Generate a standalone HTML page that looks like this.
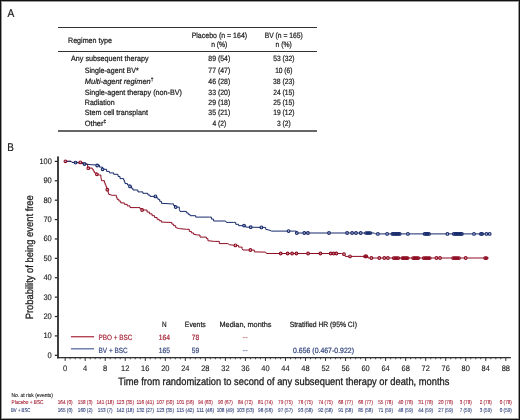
<!DOCTYPE html>
<html><head><meta charset="utf-8"><title>Figure</title>
<style>
html,body{margin:0;padding:0;background:#fff;}
body{width:520px;height:420px;overflow:hidden;}
svg{display:block;font-family:"Liberation Sans",sans-serif;will-change:transform;text-rendering:geometricPrecision;}
</style></head>
<body>
<svg width="520" height="420" viewBox="0 0 520 420" fill="#1a1a1a">
<rect x="0" y="0" width="520" height="420" fill="#fff"/>
<text x="7.60" y="17.10" font-size="11.4" textLength="6.80" lengthAdjust="spacingAndGlyphs" stroke="#1a1a1a" stroke-width="0.22">A</text>
<rect x="58" y="27" width="259" height="1" fill="#333"/>
<rect x="58" y="51" width="259" height="1" fill="#333"/>
<rect x="58" y="130" width="259" height="2" fill="#666"/>
<text x="68.00" y="42.90" font-size="7.7" textLength="44.00" lengthAdjust="spacingAndGlyphs" stroke="#1a1a1a" stroke-width="0.22">Regimen type</text>
<text x="219.40" y="37.80" font-size="7.7" text-anchor="middle" textLength="55.50" lengthAdjust="spacingAndGlyphs" stroke="#1a1a1a" stroke-width="0.22">Placebo (n = 164)</text>
<text x="219.30" y="47.20" font-size="7.7" text-anchor="middle" textLength="16.20" lengthAdjust="spacingAndGlyphs" stroke="#1a1a1a" stroke-width="0.22">n (%)</text>
<text x="283.70" y="37.80" font-size="7.7" text-anchor="middle" textLength="38.10" lengthAdjust="spacingAndGlyphs" stroke="#1a1a1a" stroke-width="0.22">BV (n = 165)</text>
<text x="283.70" y="47.20" font-size="7.7" text-anchor="middle" textLength="16.20" lengthAdjust="spacingAndGlyphs" stroke="#1a1a1a" stroke-width="0.22">n (%)</text>
<text x="71.00" y="61.40" font-size="7.7" textLength="77.60" lengthAdjust="spacingAndGlyphs" stroke="#1a1a1a" stroke-width="0.22">Any subsequent therapy</text>
<text x="219.30" y="61.40" font-size="7.7" text-anchor="middle" textLength="21.90" lengthAdjust="spacingAndGlyphs" stroke="#1a1a1a" stroke-width="0.22">89 (54)</text>
<text x="283.80" y="61.40" font-size="7.7" text-anchor="middle" textLength="21.30" lengthAdjust="spacingAndGlyphs" stroke="#1a1a1a" stroke-width="0.22">53 (32)</text>
<text x="84.80" y="72.60" font-size="7.7" textLength="54.00" lengthAdjust="spacingAndGlyphs" stroke="#1a1a1a" stroke-width="0.22">Single-agent BV*</text>
<text x="219.30" y="72.60" font-size="7.7" text-anchor="middle" textLength="21.90" lengthAdjust="spacingAndGlyphs" stroke="#1a1a1a" stroke-width="0.22">77 (47)</text>
<text x="283.80" y="72.60" font-size="7.7" text-anchor="middle" textLength="17.30" lengthAdjust="spacingAndGlyphs" stroke="#1a1a1a" stroke-width="0.22">10 (6)</text>
<text x="84.80" y="83.80" font-size="7.7" textLength="68.60" lengthAdjust="spacingAndGlyphs" stroke="#1a1a1a" stroke-width="0.22"><tspan font-style="italic">Multi-agent regimen</tspan><tspan font-size="5" dy="-3">†</tspan></text>
<text x="219.30" y="83.80" font-size="7.7" text-anchor="middle" textLength="21.90" lengthAdjust="spacingAndGlyphs" stroke="#1a1a1a" stroke-width="0.22">46 (28)</text>
<text x="283.80" y="83.80" font-size="7.7" text-anchor="middle" textLength="21.50" lengthAdjust="spacingAndGlyphs" stroke="#1a1a1a" stroke-width="0.22">38 (23)</text>
<text x="84.80" y="94.90" font-size="7.7" textLength="97.10" lengthAdjust="spacingAndGlyphs" stroke="#1a1a1a" stroke-width="0.22">Single-agent therapy (non-BV)</text>
<text x="219.30" y="94.90" font-size="7.7" text-anchor="middle" textLength="21.90" lengthAdjust="spacingAndGlyphs" stroke="#1a1a1a" stroke-width="0.22">33 (20)</text>
<text x="283.80" y="94.90" font-size="7.7" text-anchor="middle" textLength="21.30" lengthAdjust="spacingAndGlyphs" stroke="#1a1a1a" stroke-width="0.22">24 (15)</text>
<text x="84.80" y="105.20" font-size="7.7" textLength="29.80" lengthAdjust="spacingAndGlyphs" stroke="#1a1a1a" stroke-width="0.22">Radiation</text>
<text x="219.30" y="105.20" font-size="7.7" text-anchor="middle" textLength="21.90" lengthAdjust="spacingAndGlyphs" stroke="#1a1a1a" stroke-width="0.22">29 (18)</text>
<text x="283.80" y="105.20" font-size="7.7" text-anchor="middle" textLength="21.30" lengthAdjust="spacingAndGlyphs" stroke="#1a1a1a" stroke-width="0.22">25 (15)</text>
<text x="84.80" y="115.00" font-size="7.7" textLength="63.10" lengthAdjust="spacingAndGlyphs" stroke="#1a1a1a" stroke-width="0.22">Stem cell transplant</text>
<text x="219.30" y="115.00" font-size="7.7" text-anchor="middle" textLength="21.90" lengthAdjust="spacingAndGlyphs" stroke="#1a1a1a" stroke-width="0.22">35 (21)</text>
<text x="283.80" y="115.00" font-size="7.7" text-anchor="middle" textLength="21.30" lengthAdjust="spacingAndGlyphs" stroke="#1a1a1a" stroke-width="0.22">19 (12)</text>
<text x="84.80" y="126.40" font-size="7.7" textLength="21.40" lengthAdjust="spacingAndGlyphs" stroke="#1a1a1a" stroke-width="0.22">Other<tspan font-size="5" dy="-3">‡</tspan></text>
<text x="219.30" y="126.40" font-size="7.7" text-anchor="middle" textLength="13.80" lengthAdjust="spacingAndGlyphs" stroke="#1a1a1a" stroke-width="0.22">4 (2)</text>
<text x="283.80" y="126.40" font-size="7.7" text-anchor="middle" textLength="13.80" lengthAdjust="spacingAndGlyphs" stroke="#1a1a1a" stroke-width="0.22">3 (2)</text>
<text x="7.30" y="150.80" font-size="11.4" textLength="6.60" lengthAdjust="spacingAndGlyphs" stroke="#1a1a1a" stroke-width="0.22">B</text>
<rect x="57.1" y="156.4" width="1.8" height="202.0" fill="#2b2b2b"/>
<rect x="57.1" y="357.0" width="453.8" height="1.3" fill="#303030"/>
<rect x="54.8" y="354.70" width="2.5" height="1.2" fill="#222"/>
<text x="51.80" y="357.80" font-size="8.0" text-anchor="end" textLength="4.20" lengthAdjust="spacingAndGlyphs" stroke="#1a1a1a" stroke-width="0.12">0</text>
<rect x="54.8" y="335.31" width="2.5" height="1.2" fill="#222"/>
<text x="51.80" y="338.41" font-size="8.0" text-anchor="end" textLength="8.40" lengthAdjust="spacingAndGlyphs" stroke="#1a1a1a" stroke-width="0.12">10</text>
<rect x="54.8" y="315.92" width="2.5" height="1.2" fill="#222"/>
<text x="51.80" y="319.02" font-size="8.0" text-anchor="end" textLength="8.40" lengthAdjust="spacingAndGlyphs" stroke="#1a1a1a" stroke-width="0.12">20</text>
<rect x="54.8" y="296.53" width="2.5" height="1.2" fill="#222"/>
<text x="51.80" y="299.63" font-size="8.0" text-anchor="end" textLength="8.40" lengthAdjust="spacingAndGlyphs" stroke="#1a1a1a" stroke-width="0.12">30</text>
<rect x="54.8" y="277.14" width="2.5" height="1.2" fill="#222"/>
<text x="51.80" y="280.24" font-size="8.0" text-anchor="end" textLength="8.40" lengthAdjust="spacingAndGlyphs" stroke="#1a1a1a" stroke-width="0.12">40</text>
<rect x="54.8" y="257.75" width="2.5" height="1.2" fill="#222"/>
<text x="51.80" y="260.85" font-size="8.0" text-anchor="end" textLength="8.40" lengthAdjust="spacingAndGlyphs" stroke="#1a1a1a" stroke-width="0.12">50</text>
<rect x="54.8" y="238.36" width="2.5" height="1.2" fill="#222"/>
<text x="51.80" y="241.46" font-size="8.0" text-anchor="end" textLength="8.40" lengthAdjust="spacingAndGlyphs" stroke="#1a1a1a" stroke-width="0.12">60</text>
<rect x="54.8" y="218.97" width="2.5" height="1.2" fill="#222"/>
<text x="51.80" y="222.07" font-size="8.0" text-anchor="end" textLength="8.40" lengthAdjust="spacingAndGlyphs" stroke="#1a1a1a" stroke-width="0.12">70</text>
<rect x="54.8" y="199.58" width="2.5" height="1.2" fill="#222"/>
<text x="51.80" y="202.68" font-size="8.0" text-anchor="end" textLength="8.40" lengthAdjust="spacingAndGlyphs" stroke="#1a1a1a" stroke-width="0.12">80</text>
<rect x="54.8" y="180.19" width="2.5" height="1.2" fill="#222"/>
<text x="51.80" y="183.29" font-size="8.0" text-anchor="end" textLength="8.40" lengthAdjust="spacingAndGlyphs" stroke="#1a1a1a" stroke-width="0.12">90</text>
<rect x="54.8" y="160.80" width="2.5" height="1.2" fill="#222"/>
<text x="51.80" y="163.90" font-size="8.0" text-anchor="end" textLength="12.40" lengthAdjust="spacingAndGlyphs" stroke="#1a1a1a" stroke-width="0.12">100</text>
<rect x="64.65" y="358" width="1.0" height="2.9" fill="#333"/>
<rect x="69.66" y="358" width="1.0" height="1.3" fill="#444"/>
<rect x="74.66" y="358" width="1.0" height="1.3" fill="#444"/>
<rect x="79.67" y="358" width="1.0" height="1.3" fill="#444"/>
<rect x="84.68" y="358" width="1.0" height="2.9" fill="#333"/>
<rect x="89.69" y="358" width="1.0" height="1.3" fill="#444"/>
<rect x="94.69" y="358" width="1.0" height="1.3" fill="#444"/>
<rect x="99.70" y="358" width="1.0" height="1.3" fill="#444"/>
<rect x="104.71" y="358" width="1.0" height="2.9" fill="#333"/>
<rect x="109.72" y="358" width="1.0" height="1.3" fill="#444"/>
<rect x="114.72" y="358" width="1.0" height="1.3" fill="#444"/>
<rect x="119.73" y="358" width="1.0" height="1.3" fill="#444"/>
<rect x="124.74" y="358" width="1.0" height="2.9" fill="#333"/>
<rect x="129.75" y="358" width="1.0" height="1.3" fill="#444"/>
<rect x="134.75" y="358" width="1.0" height="1.3" fill="#444"/>
<rect x="139.76" y="358" width="1.0" height="1.3" fill="#444"/>
<rect x="144.77" y="358" width="1.0" height="2.9" fill="#333"/>
<rect x="149.78" y="358" width="1.0" height="1.3" fill="#444"/>
<rect x="154.78" y="358" width="1.0" height="1.3" fill="#444"/>
<rect x="159.79" y="358" width="1.0" height="1.3" fill="#444"/>
<rect x="164.80" y="358" width="1.0" height="2.9" fill="#333"/>
<rect x="169.81" y="358" width="1.0" height="1.3" fill="#444"/>
<rect x="174.81" y="358" width="1.0" height="1.3" fill="#444"/>
<rect x="179.82" y="358" width="1.0" height="1.3" fill="#444"/>
<rect x="184.83" y="358" width="1.0" height="2.9" fill="#333"/>
<rect x="189.83" y="358" width="1.0" height="1.3" fill="#444"/>
<rect x="194.84" y="358" width="1.0" height="1.3" fill="#444"/>
<rect x="199.85" y="358" width="1.0" height="1.3" fill="#444"/>
<rect x="204.86" y="358" width="1.0" height="2.9" fill="#333"/>
<rect x="209.86" y="358" width="1.0" height="1.3" fill="#444"/>
<rect x="214.87" y="358" width="1.0" height="1.3" fill="#444"/>
<rect x="219.88" y="358" width="1.0" height="1.3" fill="#444"/>
<rect x="224.89" y="358" width="1.0" height="2.9" fill="#333"/>
<rect x="229.89" y="358" width="1.0" height="1.3" fill="#444"/>
<rect x="234.90" y="358" width="1.0" height="1.3" fill="#444"/>
<rect x="239.91" y="358" width="1.0" height="1.3" fill="#444"/>
<rect x="244.92" y="358" width="1.0" height="2.9" fill="#333"/>
<rect x="249.92" y="358" width="1.0" height="1.3" fill="#444"/>
<rect x="254.93" y="358" width="1.0" height="1.3" fill="#444"/>
<rect x="259.94" y="358" width="1.0" height="1.3" fill="#444"/>
<rect x="264.95" y="358" width="1.0" height="2.9" fill="#333"/>
<rect x="269.95" y="358" width="1.0" height="1.3" fill="#444"/>
<rect x="274.96" y="358" width="1.0" height="1.3" fill="#444"/>
<rect x="279.97" y="358" width="1.0" height="1.3" fill="#444"/>
<rect x="284.98" y="358" width="1.0" height="2.9" fill="#333"/>
<rect x="289.98" y="358" width="1.0" height="1.3" fill="#444"/>
<rect x="294.99" y="358" width="1.0" height="1.3" fill="#444"/>
<rect x="300.00" y="358" width="1.0" height="1.3" fill="#444"/>
<rect x="305.01" y="358" width="1.0" height="2.9" fill="#333"/>
<rect x="310.01" y="358" width="1.0" height="1.3" fill="#444"/>
<rect x="315.02" y="358" width="1.0" height="1.3" fill="#444"/>
<rect x="320.03" y="358" width="1.0" height="1.3" fill="#444"/>
<rect x="325.03" y="358" width="1.0" height="2.9" fill="#333"/>
<rect x="330.04" y="358" width="1.0" height="1.3" fill="#444"/>
<rect x="335.05" y="358" width="1.0" height="1.3" fill="#444"/>
<rect x="340.06" y="358" width="1.0" height="1.3" fill="#444"/>
<rect x="345.06" y="358" width="1.0" height="2.9" fill="#333"/>
<rect x="350.07" y="358" width="1.0" height="1.3" fill="#444"/>
<rect x="355.08" y="358" width="1.0" height="1.3" fill="#444"/>
<rect x="360.09" y="358" width="1.0" height="1.3" fill="#444"/>
<rect x="365.09" y="358" width="1.0" height="2.9" fill="#333"/>
<rect x="370.10" y="358" width="1.0" height="1.3" fill="#444"/>
<rect x="375.11" y="358" width="1.0" height="1.3" fill="#444"/>
<rect x="380.12" y="358" width="1.0" height="1.3" fill="#444"/>
<rect x="385.12" y="358" width="1.0" height="2.9" fill="#333"/>
<rect x="390.13" y="358" width="1.0" height="1.3" fill="#444"/>
<rect x="395.14" y="358" width="1.0" height="1.3" fill="#444"/>
<rect x="400.15" y="358" width="1.0" height="1.3" fill="#444"/>
<rect x="405.15" y="358" width="1.0" height="2.9" fill="#333"/>
<rect x="410.16" y="358" width="1.0" height="1.3" fill="#444"/>
<rect x="415.17" y="358" width="1.0" height="1.3" fill="#444"/>
<rect x="420.18" y="358" width="1.0" height="1.3" fill="#444"/>
<rect x="425.18" y="358" width="1.0" height="2.9" fill="#333"/>
<rect x="430.19" y="358" width="1.0" height="1.3" fill="#444"/>
<rect x="435.20" y="358" width="1.0" height="1.3" fill="#444"/>
<rect x="440.20" y="358" width="1.0" height="1.3" fill="#444"/>
<rect x="445.21" y="358" width="1.0" height="2.9" fill="#333"/>
<rect x="450.22" y="358" width="1.0" height="1.3" fill="#444"/>
<rect x="455.23" y="358" width="1.0" height="1.3" fill="#444"/>
<rect x="460.23" y="358" width="1.0" height="1.3" fill="#444"/>
<rect x="465.24" y="358" width="1.0" height="2.9" fill="#333"/>
<rect x="470.25" y="358" width="1.0" height="1.3" fill="#444"/>
<rect x="475.26" y="358" width="1.0" height="1.3" fill="#444"/>
<rect x="480.26" y="358" width="1.0" height="1.3" fill="#444"/>
<rect x="485.27" y="358" width="1.0" height="2.9" fill="#333"/>
<rect x="490.28" y="358" width="1.0" height="1.3" fill="#444"/>
<rect x="495.29" y="358" width="1.0" height="1.3" fill="#444"/>
<rect x="500.29" y="358" width="1.0" height="1.3" fill="#444"/>
<rect x="505.30" y="358" width="1.0" height="2.9" fill="#333"/>
<text x="65.15" y="371.30" font-size="8.0" text-anchor="middle" textLength="4.20" lengthAdjust="spacingAndGlyphs" stroke="#1a1a1a" stroke-width="0.12">0</text>
<text x="85.18" y="371.30" font-size="8.0" text-anchor="middle" textLength="4.20" lengthAdjust="spacingAndGlyphs" stroke="#1a1a1a" stroke-width="0.12">4</text>
<text x="105.21" y="371.30" font-size="8.0" text-anchor="middle" textLength="4.20" lengthAdjust="spacingAndGlyphs" stroke="#1a1a1a" stroke-width="0.12">8</text>
<text x="125.24" y="371.30" font-size="8.0" text-anchor="middle" textLength="8.30" lengthAdjust="spacingAndGlyphs" stroke="#1a1a1a" stroke-width="0.12">12</text>
<text x="145.27" y="371.30" font-size="8.0" text-anchor="middle" textLength="8.30" lengthAdjust="spacingAndGlyphs" stroke="#1a1a1a" stroke-width="0.12">16</text>
<text x="165.30" y="371.30" font-size="8.0" text-anchor="middle" textLength="8.30" lengthAdjust="spacingAndGlyphs" stroke="#1a1a1a" stroke-width="0.12">20</text>
<text x="185.33" y="371.30" font-size="8.0" text-anchor="middle" textLength="8.30" lengthAdjust="spacingAndGlyphs" stroke="#1a1a1a" stroke-width="0.12">24</text>
<text x="205.36" y="371.30" font-size="8.0" text-anchor="middle" textLength="8.30" lengthAdjust="spacingAndGlyphs" stroke="#1a1a1a" stroke-width="0.12">28</text>
<text x="225.39" y="371.30" font-size="8.0" text-anchor="middle" textLength="8.30" lengthAdjust="spacingAndGlyphs" stroke="#1a1a1a" stroke-width="0.12">32</text>
<text x="245.42" y="371.30" font-size="8.0" text-anchor="middle" textLength="8.30" lengthAdjust="spacingAndGlyphs" stroke="#1a1a1a" stroke-width="0.12">36</text>
<text x="265.45" y="371.30" font-size="8.0" text-anchor="middle" textLength="8.30" lengthAdjust="spacingAndGlyphs" stroke="#1a1a1a" stroke-width="0.12">40</text>
<text x="285.48" y="371.30" font-size="8.0" text-anchor="middle" textLength="8.30" lengthAdjust="spacingAndGlyphs" stroke="#1a1a1a" stroke-width="0.12">44</text>
<text x="305.51" y="371.30" font-size="8.0" text-anchor="middle" textLength="8.30" lengthAdjust="spacingAndGlyphs" stroke="#1a1a1a" stroke-width="0.12">48</text>
<text x="325.53" y="371.30" font-size="8.0" text-anchor="middle" textLength="8.30" lengthAdjust="spacingAndGlyphs" stroke="#1a1a1a" stroke-width="0.12">52</text>
<text x="345.56" y="371.30" font-size="8.0" text-anchor="middle" textLength="8.30" lengthAdjust="spacingAndGlyphs" stroke="#1a1a1a" stroke-width="0.12">56</text>
<text x="365.59" y="371.30" font-size="8.0" text-anchor="middle" textLength="8.30" lengthAdjust="spacingAndGlyphs" stroke="#1a1a1a" stroke-width="0.12">60</text>
<text x="385.62" y="371.30" font-size="8.0" text-anchor="middle" textLength="8.30" lengthAdjust="spacingAndGlyphs" stroke="#1a1a1a" stroke-width="0.12">64</text>
<text x="405.65" y="371.30" font-size="8.0" text-anchor="middle" textLength="8.30" lengthAdjust="spacingAndGlyphs" stroke="#1a1a1a" stroke-width="0.12">68</text>
<text x="425.68" y="371.30" font-size="8.0" text-anchor="middle" textLength="8.30" lengthAdjust="spacingAndGlyphs" stroke="#1a1a1a" stroke-width="0.12">72</text>
<text x="445.71" y="371.30" font-size="8.0" text-anchor="middle" textLength="8.30" lengthAdjust="spacingAndGlyphs" stroke="#1a1a1a" stroke-width="0.12">76</text>
<text x="465.74" y="371.30" font-size="8.0" text-anchor="middle" textLength="8.30" lengthAdjust="spacingAndGlyphs" stroke="#1a1a1a" stroke-width="0.12">80</text>
<text x="485.77" y="371.30" font-size="8.0" text-anchor="middle" textLength="8.30" lengthAdjust="spacingAndGlyphs" stroke="#1a1a1a" stroke-width="0.12">84</text>
<text x="505.80" y="371.30" font-size="8.0" text-anchor="middle" textLength="8.30" lengthAdjust="spacingAndGlyphs" stroke="#1a1a1a" stroke-width="0.12">88</text>
<text x="118.30" y="384.80" font-size="10.6" textLength="331.10" lengthAdjust="spacingAndGlyphs" font-weight="normal" stroke="#1a1a1a" stroke-width="0.28">Time from randomization to second of any subsequent therapy or death, months</text>
<g transform="translate(32.5,319.3) rotate(-90)">
<text x="0.00" y="0.00" font-size="10.6" textLength="124.10" lengthAdjust="spacingAndGlyphs" stroke="#1a1a1a" stroke-width="0.28">Probability of being event free</text>
</g>
<polyline points="65.2,161.3 71.0,161.3 72.0,162.4 80.3,162.4 83.0,162.4 83.0,163.9 87.3,163.9 88.0,168.1 92.3,168.1 92.3,169.3 93.3,169.3 93.3,171.1 94.4,171.1 94.4,172.9 96.9,172.9 96.9,174.3 99.4,175.0 100.9,175.0 100.9,177.1 101.6,180.7 104.4,180.7 104.4,182.9 105.2,182.9 105.2,184.7 105.9,184.7 105.9,186.4 106.6,186.4 106.6,188.1 107.3,188.1 107.3,189.7 107.8,189.7 107.8,191.2 108.2,191.2 108.2,192.8 108.7,192.8 108.7,194.3 112.3,195.3 115.5,195.3 116.3,195.3 116.3,197.3 117.1,197.3 117.1,199.3 118.9,199.3 118.9,201.1 120.7,201.1 120.7,202.9 124.3,202.9 124.3,204.3 127.2,204.3 127.2,205.9 130.0,205.9 130.0,207.6 137.9,207.6 140.0,207.6 140.0,208.8 142.1,208.8 142.1,210.0 147.1,210.0 147.1,212.1 149.6,212.1 149.6,213.9 152.1,213.9 152.1,215.7 154.6,215.7 154.6,217.5 157.1,217.5 157.1,219.3 159.2,219.3 159.2,220.7 161.4,220.7 161.4,222.1 170.0,222.4 171.8,222.4 171.8,224.1 173.6,224.1 173.6,225.7 175.7,225.7 175.7,227.6 179.3,228.6 186.4,229.3 189.3,229.3 189.3,231.4 191.4,231.4 191.4,232.9 193.6,232.9 193.6,234.3 197.9,235.0 200.0,235.0 200.0,237.1 206.4,237.1 206.4,238.6 207.9,238.6 207.9,240.7 214.3,241.4 219.3,241.4 219.3,243.6 227.9,243.6 229.3,244.7 235.4,245.4 238.6,245.4 238.6,247.1 242.1,247.1 242.1,248.6 242.9,250.0 250.4,250.0 254.3,250.0 254.3,251.9 265.7,252.1 266.4,253.5 341.5,253.5 344.0,254.2 345.2,256.4 366.5,256.4 368.0,256.4 368.0,258.0 488.6,258.0" fill="none" stroke="#8e0c22" stroke-width="1.0" stroke-linejoin="miter"/>
<polyline points="65.2,161.3 71.0,161.3 72.0,162.4 79.4,162.9 83.7,163.9 90.9,164.7 96.6,165.0 99.4,165.0 99.4,167.1 102.6,167.1 102.6,169.3 106.6,169.3 106.6,171.4 109.4,171.4 109.4,172.9 113.7,172.9 113.7,174.3 118.0,174.3 118.0,176.4 120.0,176.4 120.0,178.6 123.6,178.6 123.6,180.0 124.3,180.0 124.3,181.8 125.0,181.8 125.0,183.6 127.5,183.6 127.5,185.0 130.0,185.0 130.0,186.4 131.4,186.4 131.4,188.2 132.9,188.2 132.9,190.0 137.9,190.0 137.9,191.9 142.9,191.9 142.9,193.3 147.9,193.3 147.9,195.0 150.0,195.0 150.0,196.4 155.4,196.4 156.7,196.4 156.7,197.9 157.9,197.9 157.9,199.3 159.7,199.3 159.7,201.3 161.4,201.3 161.4,203.3 171.4,203.9 173.6,203.9 173.6,205.5 175.7,205.5 175.7,207.1 179.3,207.1 179.3,209.3 180.0,211.4 186.4,211.4 186.4,212.9 188.2,212.9 188.2,214.3 190.0,214.3 190.0,215.7 195.7,215.7 195.7,217.1 209.3,217.1 211.4,217.1 211.4,219.1 213.6,219.1 213.6,221.0 225.7,221.0 226.4,222.4 233.6,222.4 235.7,222.4 235.7,224.3 238.6,224.3 238.6,225.7 244.0,225.6 245.7,225.6 245.7,227.1 261.4,227.4 265.7,227.4 265.7,229.3 270.0,230.3 271.4,231.1 294.3,231.1 296.4,231.1 296.4,233.0 374.5,233.0 375.2,233.9 490.7,233.9" fill="none" stroke="#16296a" stroke-width="1.0" stroke-linejoin="miter"/>
<circle cx="65.4" cy="161.3" r="1.35" fill="#fff" fill-opacity="0.5" stroke="#8e0c22" stroke-width="1.1"/>
<circle cx="80.3" cy="162.4" r="1.35" fill="#fff" fill-opacity="0.5" stroke="#8e0c22" stroke-width="1.1"/>
<circle cx="88.3" cy="168.2" r="1.35" fill="#fff" fill-opacity="0.5" stroke="#8e0c22" stroke-width="1.1"/>
<circle cx="96.9" cy="174.3" r="1.35" fill="#fff" fill-opacity="0.5" stroke="#8e0c22" stroke-width="1.1"/>
<circle cx="107.3" cy="189.7" r="1.35" fill="#fff" fill-opacity="0.5" stroke="#8e0c22" stroke-width="1.1"/>
<circle cx="142.1" cy="210.0" r="1.35" fill="#fff" fill-opacity="0.5" stroke="#8e0c22" stroke-width="1.1"/>
<circle cx="235.4" cy="245.4" r="1.35" fill="#fff" fill-opacity="0.5" stroke="#8e0c22" stroke-width="1.1"/>
<circle cx="250.4" cy="250.0" r="1.35" fill="#fff" fill-opacity="0.5" stroke="#8e0c22" stroke-width="1.1"/>
<circle cx="280.7" cy="253.5" r="1.35" fill="#fff" fill-opacity="0.5" stroke="#8e0c22" stroke-width="1.1"/>
<circle cx="287.6" cy="253.5" r="1.35" fill="#fff" fill-opacity="0.5" stroke="#8e0c22" stroke-width="1.1"/>
<circle cx="292.1" cy="253.5" r="1.35" fill="#fff" fill-opacity="0.5" stroke="#8e0c22" stroke-width="1.1"/>
<circle cx="296.4" cy="253.5" r="1.35" fill="#fff" fill-opacity="0.5" stroke="#8e0c22" stroke-width="1.1"/>
<circle cx="308.1" cy="253.5" r="1.35" fill="#fff" fill-opacity="0.5" stroke="#8e0c22" stroke-width="1.1"/>
<circle cx="320.4" cy="253.5" r="1.35" fill="#fff" fill-opacity="0.5" stroke="#8e0c22" stroke-width="1.1"/>
<circle cx="330.7" cy="253.5" r="1.35" fill="#fff" fill-opacity="0.5" stroke="#8e0c22" stroke-width="1.1"/>
<circle cx="333.6" cy="253.5" r="1.35" fill="#fff" fill-opacity="0.5" stroke="#8e0c22" stroke-width="1.1"/>
<circle cx="336.4" cy="253.5" r="1.35" fill="#fff" fill-opacity="0.5" stroke="#8e0c22" stroke-width="1.1"/>
<circle cx="344.0" cy="254.2" r="1.35" fill="#fff" fill-opacity="0.5" stroke="#8e0c22" stroke-width="1.1"/>
<circle cx="350.0" cy="256.4" r="1.35" fill="#fff" fill-opacity="0.5" stroke="#8e0c22" stroke-width="1.1"/>
<circle cx="365.1" cy="256.4" r="1.35" fill="none" stroke="#8e0c22" stroke-width="1.05"/>
<circle cx="366.3" cy="256.4" r="1.35" fill="none" stroke="#8e0c22" stroke-width="1.05"/>
<circle cx="371.4" cy="258.0" r="1.35" fill="#fff" fill-opacity="0.5" stroke="#8e0c22" stroke-width="1.1"/>
<circle cx="379.3" cy="258.0" r="1.35" fill="#fff" fill-opacity="0.5" stroke="#8e0c22" stroke-width="1.1"/>
<circle cx="384.3" cy="258.0" r="1.35" fill="#fff" fill-opacity="0.5" stroke="#8e0c22" stroke-width="1.1"/>
<circle cx="387.9" cy="258.0" r="1.35" fill="#fff" fill-opacity="0.5" stroke="#8e0c22" stroke-width="1.1"/>
<circle cx="393.7" cy="258.0" r="1.35" fill="none" stroke="#8e0c22" stroke-width="1.05"/>
<circle cx="395.2" cy="258.0" r="1.35" fill="none" stroke="#8e0c22" stroke-width="1.05"/>
<circle cx="396.8" cy="258.0" r="1.35" fill="none" stroke="#8e0c22" stroke-width="1.05"/>
<circle cx="398.3" cy="258.0" r="1.35" fill="none" stroke="#8e0c22" stroke-width="1.05"/>
<circle cx="402.4" cy="258.0" r="1.35" fill="none" stroke="#8e0c22" stroke-width="1.05"/>
<circle cx="403.7" cy="258.0" r="1.35" fill="none" stroke="#8e0c22" stroke-width="1.05"/>
<circle cx="405.0" cy="258.0" r="1.35" fill="none" stroke="#8e0c22" stroke-width="1.05"/>
<circle cx="406.3" cy="258.0" r="1.35" fill="none" stroke="#8e0c22" stroke-width="1.05"/>
<circle cx="407.6" cy="258.0" r="1.35" fill="none" stroke="#8e0c22" stroke-width="1.05"/>
<circle cx="413.1" cy="258.0" r="1.35" fill="none" stroke="#8e0c22" stroke-width="1.05"/>
<circle cx="414.4" cy="258.0" r="1.35" fill="none" stroke="#8e0c22" stroke-width="1.05"/>
<circle cx="415.7" cy="258.0" r="1.35" fill="none" stroke="#8e0c22" stroke-width="1.05"/>
<circle cx="417.0" cy="258.0" r="1.35" fill="none" stroke="#8e0c22" stroke-width="1.05"/>
<circle cx="418.3" cy="258.0" r="1.35" fill="none" stroke="#8e0c22" stroke-width="1.05"/>
<circle cx="423.7" cy="258.0" r="1.35" fill="none" stroke="#8e0c22" stroke-width="1.05"/>
<circle cx="425.2" cy="258.0" r="1.35" fill="none" stroke="#8e0c22" stroke-width="1.05"/>
<circle cx="426.7" cy="258.0" r="1.35" fill="none" stroke="#8e0c22" stroke-width="1.05"/>
<circle cx="428.2" cy="258.0" r="1.35" fill="none" stroke="#8e0c22" stroke-width="1.05"/>
<circle cx="429.7" cy="258.0" r="1.35" fill="none" stroke="#8e0c22" stroke-width="1.05"/>
<circle cx="436.4" cy="258.0" r="1.35" fill="#fff" fill-opacity="0.5" stroke="#8e0c22" stroke-width="1.1"/>
<circle cx="440.0" cy="258.0" r="1.35" fill="#fff" fill-opacity="0.5" stroke="#8e0c22" stroke-width="1.1"/>
<circle cx="453.1" cy="258.0" r="1.35" fill="none" stroke="#8e0c22" stroke-width="1.05"/>
<circle cx="454.6" cy="258.0" r="1.35" fill="none" stroke="#8e0c22" stroke-width="1.05"/>
<circle cx="456.0" cy="258.0" r="1.35" fill="none" stroke="#8e0c22" stroke-width="1.05"/>
<circle cx="457.5" cy="258.0" r="1.35" fill="none" stroke="#8e0c22" stroke-width="1.05"/>
<circle cx="459.0" cy="258.0" r="1.35" fill="none" stroke="#8e0c22" stroke-width="1.05"/>
<circle cx="465.7" cy="258.0" r="1.35" fill="#fff" fill-opacity="0.5" stroke="#8e0c22" stroke-width="1.1"/>
<circle cx="485.1" cy="258.0" r="1.35" fill="none" stroke="#8e0c22" stroke-width="1.05"/>
<circle cx="486.4" cy="258.0" r="1.35" fill="none" stroke="#8e0c22" stroke-width="1.05"/>
<circle cx="75.5" cy="162.6" r="1.35" fill="#fff" fill-opacity="0.5" stroke="#16296a" stroke-width="1.1"/>
<circle cx="84.5" cy="164.0" r="1.35" fill="#fff" fill-opacity="0.5" stroke="#16296a" stroke-width="1.1"/>
<circle cx="97.2" cy="165.5" r="1.35" fill="#fff" fill-opacity="0.5" stroke="#16296a" stroke-width="1.1"/>
<circle cx="102.6" cy="169.3" r="1.35" fill="#fff" fill-opacity="0.5" stroke="#16296a" stroke-width="1.1"/>
<circle cx="130.0" cy="186.4" r="1.35" fill="#fff" fill-opacity="0.5" stroke="#16296a" stroke-width="1.1"/>
<circle cx="155.4" cy="196.4" r="1.35" fill="#fff" fill-opacity="0.5" stroke="#16296a" stroke-width="1.1"/>
<circle cx="175.7" cy="207.1" r="1.35" fill="#fff" fill-opacity="0.5" stroke="#16296a" stroke-width="1.1"/>
<circle cx="244.0" cy="225.6" r="1.35" fill="#fff" fill-opacity="0.5" stroke="#16296a" stroke-width="1.1"/>
<circle cx="250.7" cy="227.2" r="1.35" fill="#fff" fill-opacity="0.5" stroke="#16296a" stroke-width="1.1"/>
<circle cx="261.4" cy="227.4" r="1.35" fill="#fff" fill-opacity="0.5" stroke="#16296a" stroke-width="1.1"/>
<circle cx="288.6" cy="231.1" r="1.35" fill="#fff" fill-opacity="0.5" stroke="#16296a" stroke-width="1.1"/>
<circle cx="296.8" cy="233.0" r="1.35" fill="#fff" fill-opacity="0.5" stroke="#16296a" stroke-width="1.1"/>
<circle cx="304.3" cy="233.0" r="1.35" fill="#fff" fill-opacity="0.5" stroke="#16296a" stroke-width="1.1"/>
<circle cx="307.9" cy="233.0" r="1.35" fill="#fff" fill-opacity="0.5" stroke="#16296a" stroke-width="1.1"/>
<circle cx="329.0" cy="233.0" r="1.35" fill="#fff" fill-opacity="0.5" stroke="#16296a" stroke-width="1.1"/>
<circle cx="347.1" cy="233.0" r="1.35" fill="#fff" fill-opacity="0.5" stroke="#16296a" stroke-width="1.1"/>
<circle cx="352.1" cy="233.0" r="1.35" fill="#fff" fill-opacity="0.5" stroke="#16296a" stroke-width="1.1"/>
<circle cx="356.0" cy="233.0" r="1.35" fill="#fff" fill-opacity="0.5" stroke="#16296a" stroke-width="1.1"/>
<circle cx="360.7" cy="233.0" r="1.35" fill="#fff" fill-opacity="0.5" stroke="#16296a" stroke-width="1.1"/>
<circle cx="366.0" cy="233.0" r="1.35" fill="none" stroke="#16296a" stroke-width="1.05"/>
<circle cx="367.5" cy="233.0" r="1.35" fill="none" stroke="#16296a" stroke-width="1.05"/>
<circle cx="368.9" cy="233.0" r="1.35" fill="none" stroke="#16296a" stroke-width="1.05"/>
<circle cx="370.4" cy="233.0" r="1.35" fill="none" stroke="#16296a" stroke-width="1.05"/>
<circle cx="377.9" cy="233.9" r="1.35" fill="#fff" fill-opacity="0.5" stroke="#16296a" stroke-width="1.1"/>
<circle cx="387.1" cy="233.9" r="1.35" fill="#fff" fill-opacity="0.5" stroke="#16296a" stroke-width="1.1"/>
<circle cx="392.4" cy="233.9" r="1.35" fill="none" stroke="#16296a" stroke-width="1.05"/>
<circle cx="393.9" cy="233.9" r="1.35" fill="none" stroke="#16296a" stroke-width="1.05"/>
<circle cx="395.3" cy="233.9" r="1.35" fill="none" stroke="#16296a" stroke-width="1.05"/>
<circle cx="396.8" cy="233.9" r="1.35" fill="none" stroke="#16296a" stroke-width="1.05"/>
<circle cx="398.2" cy="233.9" r="1.35" fill="none" stroke="#16296a" stroke-width="1.05"/>
<circle cx="399.7" cy="233.9" r="1.35" fill="none" stroke="#16296a" stroke-width="1.05"/>
<circle cx="407.9" cy="233.9" r="1.35" fill="#fff" fill-opacity="0.5" stroke="#16296a" stroke-width="1.1"/>
<circle cx="424.6" cy="233.9" r="1.35" fill="none" stroke="#16296a" stroke-width="1.05"/>
<circle cx="426.1" cy="233.9" r="1.35" fill="none" stroke="#16296a" stroke-width="1.05"/>
<circle cx="427.5" cy="233.9" r="1.35" fill="none" stroke="#16296a" stroke-width="1.05"/>
<circle cx="429.0" cy="233.9" r="1.35" fill="none" stroke="#16296a" stroke-width="1.05"/>
<circle cx="447.4" cy="233.9" r="1.35" fill="#fff" fill-opacity="0.5" stroke="#16296a" stroke-width="1.1"/>
<circle cx="453.8" cy="233.9" r="1.35" fill="none" stroke="#16296a" stroke-width="1.05"/>
<circle cx="455.2" cy="233.9" r="1.35" fill="none" stroke="#16296a" stroke-width="1.05"/>
<circle cx="456.5" cy="233.9" r="1.35" fill="none" stroke="#16296a" stroke-width="1.05"/>
<circle cx="457.9" cy="233.9" r="1.35" fill="none" stroke="#16296a" stroke-width="1.05"/>
<circle cx="459.2" cy="233.9" r="1.35" fill="none" stroke="#16296a" stroke-width="1.05"/>
<circle cx="460.6" cy="233.9" r="1.35" fill="none" stroke="#16296a" stroke-width="1.05"/>
<circle cx="461.9" cy="233.9" r="1.35" fill="none" stroke="#16296a" stroke-width="1.05"/>
<circle cx="474.0" cy="233.9" r="1.35" fill="#fff" fill-opacity="0.5" stroke="#16296a" stroke-width="1.1"/>
<circle cx="480.9" cy="233.9" r="1.35" fill="none" stroke="#16296a" stroke-width="1.05"/>
<circle cx="482.1" cy="233.9" r="1.35" fill="none" stroke="#16296a" stroke-width="1.05"/>
<circle cx="486.4" cy="233.9" r="1.35" fill="#fff" fill-opacity="0.5" stroke="#16296a" stroke-width="1.1"/>
<circle cx="489.7" cy="233.9" r="1.35" fill="#fff" fill-opacity="0.5" stroke="#16296a" stroke-width="1.1"/>
<rect x="70.9" y="336.0" width="23.2" height="1.4" fill="#b44658"/>
<rect x="70.9" y="348.1" width="23.2" height="1.4" fill="#6676a8"/>
<text x="98.60" y="339.90" font-size="7.6" fill="#a8283a" textLength="33.80" lengthAdjust="spacingAndGlyphs" stroke="#a8283a" stroke-width="0.22">PBO + BSC</text>
<text x="98.60" y="353.20" font-size="7.6" fill="#35477f" textLength="29.00" lengthAdjust="spacingAndGlyphs" stroke="#35477f" stroke-width="0.22">BV + BSC</text>
<text x="164.20" y="327.30" font-size="7.6" text-anchor="middle" textLength="4.60" lengthAdjust="spacingAndGlyphs" stroke="#1a1a1a" stroke-width="0.22">N</text>
<text x="195.30" y="327.30" font-size="7.6" text-anchor="middle" textLength="20.90" lengthAdjust="spacingAndGlyphs" stroke="#1a1a1a" stroke-width="0.22">Events</text>
<text x="245.50" y="327.30" font-size="7.6" text-anchor="middle" textLength="51.90" lengthAdjust="spacingAndGlyphs" stroke="#1a1a1a" stroke-width="0.22">Median, months</text>
<text x="323.30" y="327.30" font-size="7.6" text-anchor="middle" textLength="67.30" lengthAdjust="spacingAndGlyphs" stroke="#1a1a1a" stroke-width="0.22">Stratified HR (95% CI)</text>
<text x="164.40" y="340.10" font-size="7.6" fill="#a8283a" text-anchor="middle" textLength="11.20" lengthAdjust="spacingAndGlyphs" stroke="#a8283a" stroke-width="0.22">164</text>
<text x="164.40" y="353.20" font-size="7.6" fill="#35477f" text-anchor="middle" textLength="11.20" lengthAdjust="spacingAndGlyphs" stroke="#35477f" stroke-width="0.22">165</text>
<text x="195.50" y="340.10" font-size="7.6" fill="#a8283a" text-anchor="middle" textLength="7.40" lengthAdjust="spacingAndGlyphs" stroke="#a8283a" stroke-width="0.22">78</text>
<text x="195.50" y="353.20" font-size="7.6" fill="#35477f" text-anchor="middle" textLength="7.40" lengthAdjust="spacingAndGlyphs" stroke="#35477f" stroke-width="0.22">59</text>
<rect x="242.9" y="337.3" width="2.0" height="0.8" fill="#c06070"/>
<rect x="242.9" y="350.3" width="2.0" height="0.8" fill="#6070a8"/>
<rect x="245.5" y="337.3" width="2.0" height="0.8" fill="#c06070"/>
<rect x="245.5" y="350.3" width="2.0" height="0.8" fill="#6070a8"/>
<text x="323.50" y="353.20" font-size="7.6" fill="#35477f" text-anchor="middle" textLength="60.90" lengthAdjust="spacingAndGlyphs" stroke="#35477f" stroke-width="0.22">0.656 (0.467-0.922)</text>
<text x="11.50" y="396.50" font-size="5.6" textLength="41.50" lengthAdjust="spacingAndGlyphs" stroke="#1a1a1a" stroke-width="0.12">No. at risk (events)</text>
<text x="11.50" y="404.00" font-size="5.6" fill="#a8283a" textLength="32.00" lengthAdjust="spacingAndGlyphs" stroke="#a8283a" stroke-width="0.12">Placebo + BSC</text>
<text x="11.00" y="411.80" font-size="5.6" fill="#35477f" textLength="19.40" lengthAdjust="spacingAndGlyphs" stroke="#35477f" stroke-width="0.12">BV + BSC</text>
<text x="65.15" y="404.00" font-size="5.6" fill="#a8283a" text-anchor="middle" textLength="14.78" lengthAdjust="spacingAndGlyphs" stroke="#a8283a" stroke-width="0.12">164 (0)</text>
<text x="65.15" y="411.80" font-size="5.6" fill="#35477f" text-anchor="middle" textLength="14.78" lengthAdjust="spacingAndGlyphs" stroke="#35477f" stroke-width="0.12">165 (0)</text>
<text x="85.18" y="404.00" font-size="5.6" fill="#a8283a" text-anchor="middle" textLength="14.78" lengthAdjust="spacingAndGlyphs" stroke="#a8283a" stroke-width="0.12">158 (3)</text>
<text x="85.18" y="411.80" font-size="5.6" fill="#35477f" text-anchor="middle" textLength="14.78" lengthAdjust="spacingAndGlyphs" stroke="#35477f" stroke-width="0.12">160 (2)</text>
<text x="105.21" y="404.00" font-size="5.6" fill="#a8283a" text-anchor="middle" textLength="17.50" lengthAdjust="spacingAndGlyphs" stroke="#a8283a" stroke-width="0.12">141 (18)</text>
<text x="105.21" y="411.80" font-size="5.6" fill="#35477f" text-anchor="middle" textLength="14.78" lengthAdjust="spacingAndGlyphs" stroke="#35477f" stroke-width="0.12">153 (7)</text>
<text x="125.24" y="404.00" font-size="5.6" fill="#a8283a" text-anchor="middle" textLength="17.50" lengthAdjust="spacingAndGlyphs" stroke="#a8283a" stroke-width="0.12">123 (35)</text>
<text x="125.24" y="411.80" font-size="5.6" fill="#35477f" text-anchor="middle" textLength="17.50" lengthAdjust="spacingAndGlyphs" stroke="#35477f" stroke-width="0.12">142 (18)</text>
<text x="145.27" y="404.00" font-size="5.6" fill="#a8283a" text-anchor="middle" textLength="17.50" lengthAdjust="spacingAndGlyphs" stroke="#a8283a" stroke-width="0.12">116 (41)</text>
<text x="145.27" y="411.80" font-size="5.6" fill="#35477f" text-anchor="middle" textLength="17.50" lengthAdjust="spacingAndGlyphs" stroke="#35477f" stroke-width="0.12">132 (27)</text>
<text x="165.30" y="404.00" font-size="5.6" fill="#a8283a" text-anchor="middle" textLength="17.50" lengthAdjust="spacingAndGlyphs" stroke="#a8283a" stroke-width="0.12">107 (50)</text>
<text x="165.30" y="411.80" font-size="5.6" fill="#35477f" text-anchor="middle" textLength="17.50" lengthAdjust="spacingAndGlyphs" stroke="#35477f" stroke-width="0.12">123 (35)</text>
<text x="185.33" y="404.00" font-size="5.6" fill="#a8283a" text-anchor="middle" textLength="17.50" lengthAdjust="spacingAndGlyphs" stroke="#a8283a" stroke-width="0.12">101 (56)</text>
<text x="185.33" y="411.80" font-size="5.6" fill="#35477f" text-anchor="middle" textLength="17.50" lengthAdjust="spacingAndGlyphs" stroke="#35477f" stroke-width="0.12">115 (42)</text>
<text x="205.36" y="404.00" font-size="5.6" fill="#a8283a" text-anchor="middle" textLength="14.78" lengthAdjust="spacingAndGlyphs" stroke="#a8283a" stroke-width="0.12">94 (63)</text>
<text x="205.36" y="411.80" font-size="5.6" fill="#35477f" text-anchor="middle" textLength="17.50" lengthAdjust="spacingAndGlyphs" stroke="#35477f" stroke-width="0.12">111 (46)</text>
<text x="225.39" y="404.00" font-size="5.6" fill="#a8283a" text-anchor="middle" textLength="14.78" lengthAdjust="spacingAndGlyphs" stroke="#a8283a" stroke-width="0.12">90 (67)</text>
<text x="225.39" y="411.80" font-size="5.6" fill="#35477f" text-anchor="middle" textLength="17.50" lengthAdjust="spacingAndGlyphs" stroke="#35477f" stroke-width="0.12">108 (49)</text>
<text x="245.42" y="404.00" font-size="5.6" fill="#a8283a" text-anchor="middle" textLength="14.78" lengthAdjust="spacingAndGlyphs" stroke="#a8283a" stroke-width="0.12">84 (72)</text>
<text x="245.42" y="411.80" font-size="5.6" fill="#35477f" text-anchor="middle" textLength="17.50" lengthAdjust="spacingAndGlyphs" stroke="#35477f" stroke-width="0.12">103 (53)</text>
<text x="265.45" y="404.00" font-size="5.6" fill="#a8283a" text-anchor="middle" textLength="14.78" lengthAdjust="spacingAndGlyphs" stroke="#a8283a" stroke-width="0.12">81 (74)</text>
<text x="265.45" y="411.80" font-size="5.6" fill="#35477f" text-anchor="middle" textLength="14.78" lengthAdjust="spacingAndGlyphs" stroke="#35477f" stroke-width="0.12">98 (56)</text>
<text x="285.48" y="404.00" font-size="5.6" fill="#a8283a" text-anchor="middle" textLength="14.78" lengthAdjust="spacingAndGlyphs" stroke="#a8283a" stroke-width="0.12">79 (75)</text>
<text x="285.48" y="411.80" font-size="5.6" fill="#35477f" text-anchor="middle" textLength="14.78" lengthAdjust="spacingAndGlyphs" stroke="#35477f" stroke-width="0.12">97 (57)</text>
<text x="305.51" y="404.00" font-size="5.6" fill="#a8283a" text-anchor="middle" textLength="14.78" lengthAdjust="spacingAndGlyphs" stroke="#a8283a" stroke-width="0.12">76 (75)</text>
<text x="305.51" y="411.80" font-size="5.6" fill="#35477f" text-anchor="middle" textLength="14.78" lengthAdjust="spacingAndGlyphs" stroke="#35477f" stroke-width="0.12">93 (58)</text>
<text x="325.53" y="404.00" font-size="5.6" fill="#a8283a" text-anchor="middle" textLength="14.78" lengthAdjust="spacingAndGlyphs" stroke="#a8283a" stroke-width="0.12">74 (75)</text>
<text x="325.53" y="411.80" font-size="5.6" fill="#35477f" text-anchor="middle" textLength="14.78" lengthAdjust="spacingAndGlyphs" stroke="#35477f" stroke-width="0.12">92 (58)</text>
<text x="345.56" y="404.00" font-size="5.6" fill="#a8283a" text-anchor="middle" textLength="14.78" lengthAdjust="spacingAndGlyphs" stroke="#a8283a" stroke-width="0.12">68 (77)</text>
<text x="345.56" y="411.80" font-size="5.6" fill="#35477f" text-anchor="middle" textLength="14.78" lengthAdjust="spacingAndGlyphs" stroke="#35477f" stroke-width="0.12">91 (58)</text>
<text x="365.59" y="404.00" font-size="5.6" fill="#a8283a" text-anchor="middle" textLength="14.78" lengthAdjust="spacingAndGlyphs" stroke="#a8283a" stroke-width="0.12">66 (77)</text>
<text x="365.59" y="411.80" font-size="5.6" fill="#35477f" text-anchor="middle" textLength="14.78" lengthAdjust="spacingAndGlyphs" stroke="#35477f" stroke-width="0.12">85 (58)</text>
<text x="385.62" y="404.00" font-size="5.6" fill="#a8283a" text-anchor="middle" textLength="14.78" lengthAdjust="spacingAndGlyphs" stroke="#a8283a" stroke-width="0.12">55 (78)</text>
<text x="385.62" y="411.80" font-size="5.6" fill="#35477f" text-anchor="middle" textLength="14.78" lengthAdjust="spacingAndGlyphs" stroke="#35477f" stroke-width="0.12">71 (59)</text>
<text x="405.65" y="404.00" font-size="5.6" fill="#a8283a" text-anchor="middle" textLength="14.78" lengthAdjust="spacingAndGlyphs" stroke="#a8283a" stroke-width="0.12">40 (78)</text>
<text x="405.65" y="411.80" font-size="5.6" fill="#35477f" text-anchor="middle" textLength="14.78" lengthAdjust="spacingAndGlyphs" stroke="#35477f" stroke-width="0.12">48 (59)</text>
<text x="425.68" y="404.00" font-size="5.6" fill="#a8283a" text-anchor="middle" textLength="14.78" lengthAdjust="spacingAndGlyphs" stroke="#a8283a" stroke-width="0.12">31 (78)</text>
<text x="425.68" y="411.80" font-size="5.6" fill="#35477f" text-anchor="middle" textLength="14.78" lengthAdjust="spacingAndGlyphs" stroke="#35477f" stroke-width="0.12">44 (59)</text>
<text x="445.71" y="404.00" font-size="5.6" fill="#a8283a" text-anchor="middle" textLength="14.78" lengthAdjust="spacingAndGlyphs" stroke="#a8283a" stroke-width="0.12">20 (78)</text>
<text x="445.71" y="411.80" font-size="5.6" fill="#35477f" text-anchor="middle" textLength="14.78" lengthAdjust="spacingAndGlyphs" stroke="#35477f" stroke-width="0.12">27 (59)</text>
<text x="465.74" y="404.00" font-size="5.6" fill="#a8283a" text-anchor="middle" textLength="12.06" lengthAdjust="spacingAndGlyphs" stroke="#a8283a" stroke-width="0.12">3 (78)</text>
<text x="465.74" y="411.80" font-size="5.6" fill="#35477f" text-anchor="middle" textLength="12.06" lengthAdjust="spacingAndGlyphs" stroke="#35477f" stroke-width="0.12">7 (59)</text>
<text x="485.77" y="404.00" font-size="5.6" fill="#a8283a" text-anchor="middle" textLength="12.06" lengthAdjust="spacingAndGlyphs" stroke="#a8283a" stroke-width="0.12">2 (78)</text>
<text x="485.77" y="411.80" font-size="5.6" fill="#35477f" text-anchor="middle" textLength="12.06" lengthAdjust="spacingAndGlyphs" stroke="#35477f" stroke-width="0.12">3 (59)</text>
<text x="505.80" y="404.00" font-size="5.6" fill="#a8283a" text-anchor="middle" textLength="12.06" lengthAdjust="spacingAndGlyphs" stroke="#a8283a" stroke-width="0.12">0 (78)</text>
<text x="505.80" y="411.80" font-size="5.6" fill="#35477f" text-anchor="middle" textLength="12.06" lengthAdjust="spacingAndGlyphs" stroke="#35477f" stroke-width="0.12">0 (59)</text>
<rect x="0.5" y="0.5" width="519" height="419" fill="none" stroke="#111" stroke-width="1"/>
<rect x="1.5" y="1.5" width="517" height="417" fill="none" stroke="#9a9a9a" stroke-width="1"/>
</svg>
</body></html>
